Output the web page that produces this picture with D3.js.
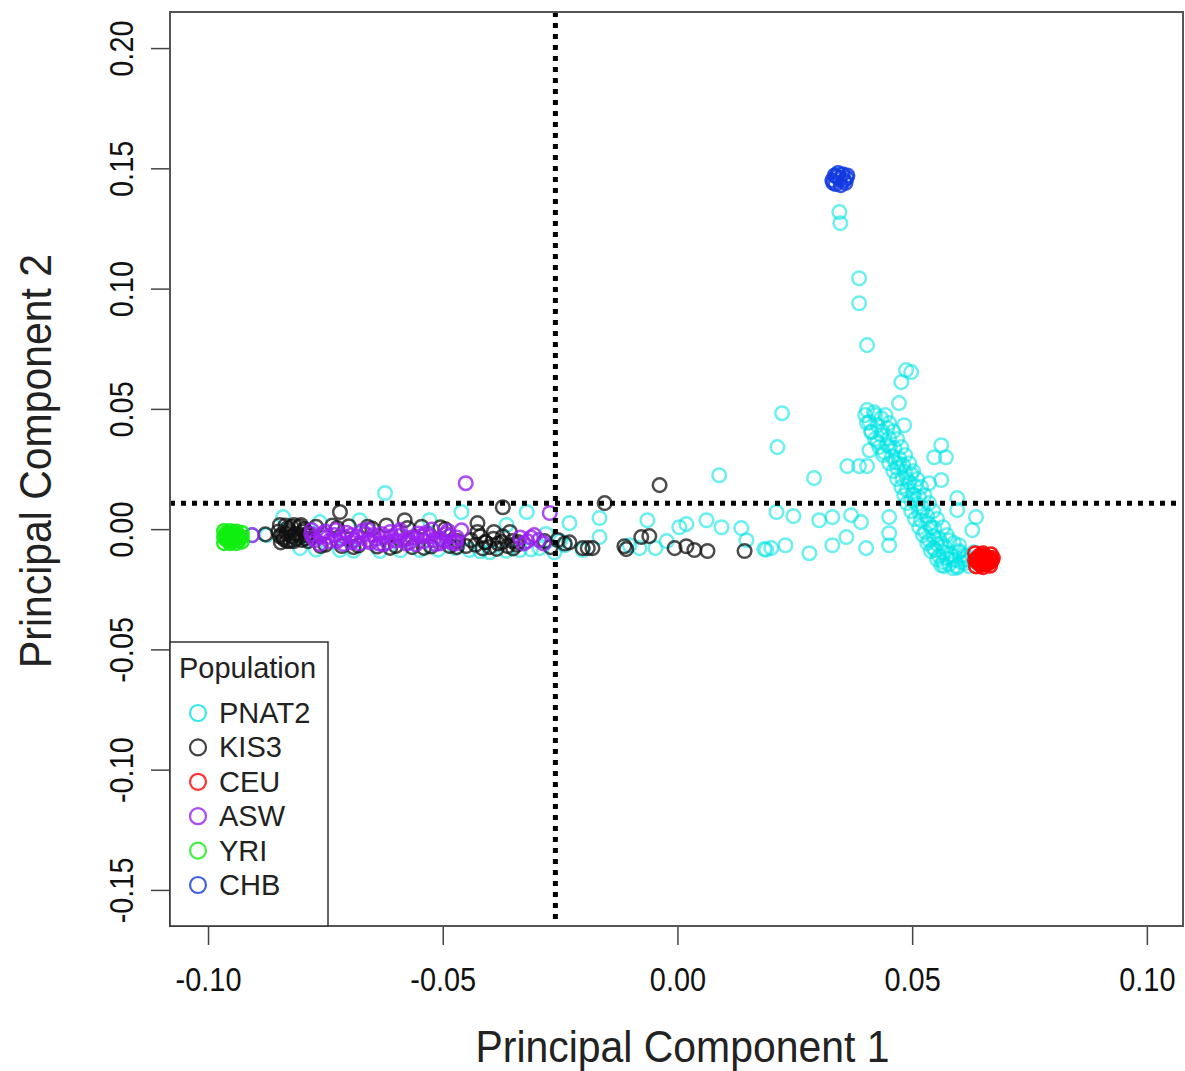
<!DOCTYPE html>
<html>
<head>
<meta charset="utf-8">
<script src="https://cdnjs.cloudflare.com/ajax/libs/d3/7.8.5/d3.min.js"></script>
<style>
  body { margin: 0; background: #fff; }
  svg { display: block; font-family: "Liberation Sans", Arial, sans-serif; }
</style>
</head>
<body>
<div id="viz"></div>
<script>
// PCA scores, [PC1, PC2]
const pnat2 = [
  // main arm from (0.04, 0.05) down to the CEU cluster
  [0.0404,0.0495],[0.0419,0.0486],[0.0434,0.0461],[0.0409,0.0445],[0.0426,0.0432],[0.0447,0.0420],
  [0.0413,0.0403],[0.0434,0.0391],[0.0451,0.0378],[0.0426,0.0362],[0.0447,0.0349],[0.0462,0.0337],
  [0.0440,0.0320],[0.0457,0.0303],[0.0472,0.0295],[0.0464,0.0278],[0.0481,0.0266],[0.0468,0.0254],
  [0.0485,0.0237],[0.0498,0.0229],[0.0479,0.0212],[0.0494,0.0195],[0.0506,0.0179],[0.0489,0.0162],
  [0.0502,0.0145],[0.0515,0.0133],[0.0498,0.0121],[0.0511,0.0104],[0.0523,0.0087],[0.0515,0.0071],
  [0.0532,0.0054],[0.0519,0.0037],[0.0536,0.0021],[0.0547,0.0004],[0.0528,-0.0012],[0.0545,-0.0029],
  [0.0557,-0.0037],[0.0536,-0.0046],[0.0553,-0.0062],[0.0568,-0.0071],[0.0549,-0.0087],[0.0566,-0.0096],
  [0.0583,-0.0104],[0.0557,-0.0112],[0.0574,-0.0121],[0.0591,-0.0129],[0.0604,-0.0137],[0.0579,-0.0145],
  [0.0596,-0.0154],[0.0613,-0.0141],[0.0621,-0.0129],[0.0566,-0.0137],[0.0545,-0.0079],[0.0600,-0.0096],
  [0.0617,-0.0112],
  [0.0400,0.0474],[0.0443,0.0474],[0.0421,0.0474],[0.0404,0.0441],[0.0451,0.0441],[0.0413,0.0407],
  [0.0460,0.0407],[0.0436,0.0407],[0.0421,0.0374],[0.0468,0.0374],[0.0430,0.0341],[0.0477,0.0341],
  [0.0453,0.0341],[0.0438,0.0308],[0.0485,0.0308],[0.0451,0.0274],[0.0494,0.0274],[0.0472,0.0274],
  [0.0460,0.0241],[0.0502,0.0241],[0.0468,0.0208],[0.0511,0.0208],[0.0489,0.0208],[0.0477,0.0175],
  [0.0519,0.0175],[0.0483,0.0141],[0.0526,0.0141],[0.0504,0.0141],[0.0489,0.0108],[0.0536,0.0108],
  [0.0498,0.0075],[0.0545,0.0075],[0.0521,0.0075],[0.0506,0.0042],[0.0553,0.0042],[0.0515,0.0008],
  [0.0566,0.0008],[0.0540,0.0008],[0.0523,-0.0025],[0.0574,-0.0025],[0.0532,-0.0058],[0.0589,-0.0058],
  [0.0562,-0.0058],[0.0540,-0.0091],[0.0600,-0.0091],[0.0553,-0.0125],[0.0611,-0.0125],[0.0583,-0.0125],
  [0.0568,-0.0154],[0.0621,-0.0154],[0.0596,-0.0160],[0.0611,-0.0108],[0.0632,-0.0096],[0.0600,-0.0067],
  [0.0579,-0.0046],[0.0562,-0.0150],[0.0587,-0.0162],
  // scattered around the arm and along PC1
  [0.0213,0.0341],[0.0223,0.0482],[0.0291,0.0212],[0.0362,0.0262],[0.0387,0.0262],[0.0404,0.0262],
  [0.0409,0.0328],[0.0483,0.0432],[0.0472,0.0524],[0.0477,0.0611],[0.0487,0.0661],[0.0498,0.0653],
  [0.0404,0.0765],[0.0387,0.0939],[0.0387,0.1043],[0.0345,0.1318],[0.0347,0.1272],
  [0.0562,0.0349],[0.0572,0.0299],[0.0547,0.0299],[0.0562,0.0204],[0.0596,0.0129],[0.0536,0.0191],
  [0.0636,0.0050],[0.0628,-0.0004],[0.0596,0.0079],[0.0451,0.0050],[0.0451,-0.0017],[0.0451,-0.0067],
  [0.0402,-0.0079],[0.0391,0.0029],[0.0370,0.0058],[0.0360,-0.0033],[0.0330,-0.0067],[0.0330,0.0050],
  [0.0302,0.0037],[0.0281,-0.0100],[0.0247,0.0054],[0.0230,-0.0067],[0.0211,0.0071],[0.0200,-0.0079],
  [0.0185,-0.0083],[0.0189,-0.0085],[0.0147,-0.0046],[0.0136,0.0004],[0.0094,0.0008],[0.0062,0.0037],
  [0.0089,0.0224],[0.0019,0.0021],[0.0004,0.0008],[-0.0064,0.0037],[-0.0047,-0.0079],[-0.0023,-0.0050],
  [-0.0081,-0.0079],[-0.0102,-0.0067],[-0.0166,0.0046],[-0.0166,-0.0033],[-0.0230,0.0025],
  [-0.0202,-0.0087],[-0.0240,-0.0067],[-0.0321,0.0071],[-0.0364,0.0017],[-0.0460,0.0071],
  [-0.0623,0.0150],[-0.0840,0.0050],
  [-0.0804,-0.0079],[-0.0719,-0.0087],[-0.0634,-0.0091],[-0.0549,-0.0087],[-0.0474,-0.0079],
  [-0.0443,-0.0087],[-0.0400,-0.0096],[-0.0336,-0.0087],[-0.0294,-0.0079],[-0.0262,-0.0096],
  [-0.0762,0.0029],[-0.0677,0.0037],[-0.0528,0.0037],[-0.0906,-0.0025],[-0.0875,-0.0025],
  [-0.0770,-0.0085],[-0.0690,-0.0090],[-0.0590,-0.0088],[-0.0510,-0.0085],[-0.0420,-0.0092],
  [-0.0365,-0.0090],[-0.0312,-0.0084],[-0.0250,-0.0050],[-0.0280,-0.0020],
  [0.0340,0.1475],[0.0355,0.1451]
];

const kis3 = [
  [-0.0850,-0.0010],[-0.0840,-0.0035],[-0.0830,0.0005],[-0.0825,-0.0050],[-0.0815,-0.0020],
  [-0.0805,0.0010],[-0.0800,-0.0045],[-0.0790,-0.0025],[-0.0845,-0.0055],[-0.0820,-0.0030],
  [-0.0795,0.0000],[-0.0835,0.0015],
  [-0.0847,0.0017],[-0.0832,-0.0017],[-0.0817,-0.0050],[-0.0802,0.0017],[-0.0787,-0.0017],
  [-0.0847,-0.0030],[-0.0832,-0.0050],[-0.0817,0.0017],[-0.0802,-0.0030],[-0.0787,-0.0050],
  [-0.0843,-0.0022],[-0.0828,-0.0008],[-0.0812,-0.0040],[-0.0797,-0.0010],[-0.0838,-0.0042],
  [-0.0822,0.0010],[-0.0808,-0.0020],[-0.0792,-0.0038],
  [-0.0770,0.0010],[-0.0750,-0.0065],[-0.0735,0.0015],[-0.0715,-0.0070],[-0.0700,0.0012],
  [-0.0680,-0.0068],[-0.0660,0.0010],[-0.0640,-0.0072],[-0.0620,0.0015],[-0.0600,-0.0070],
  [-0.0581,0.0037],[-0.0565,-0.0075],[-0.0545,0.0010],[-0.0525,-0.0072],[-0.0505,0.0008],
  [-0.0485,-0.0070],[-0.0468,-0.0050],[-0.0719,0.0071],
  [-0.0760,-0.0070],[-0.0725,0.0005],[-0.0690,-0.0075],[-0.0650,0.0002],[-0.0612,-0.0078],
  [-0.0575,0.0005],[-0.0540,-0.0078],[-0.0495,0.0000],[-0.0470,-0.0075],
  [-0.0440,-0.0045],[-0.0430,-0.0065],[-0.0420,-0.0030],[-0.0410,-0.0055],[-0.0400,-0.0075],
  [-0.0392,-0.0040],[-0.0382,-0.0060],[-0.0372,-0.0030],[-0.0362,-0.0070],[-0.0352,-0.0050],
  [-0.0342,-0.0065],[-0.0426,0.0025],[-0.0372,0.0091],[-0.0450,-0.0070],
  [-0.0426,-0.0012],[-0.0409,-0.0054],[-0.0391,-0.0012],[-0.0374,-0.0054],[-0.0357,-0.0012],
  [-0.0340,-0.0054],[-0.0415,-0.0080],[-0.0385,-0.0082],[-0.0350,-0.0080],
  [-0.0283,-0.0050],[-0.0270,-0.0075],[-0.0255,-0.0045],[-0.0240,-0.0060],[-0.0230,-0.0055],
  [-0.0202,-0.0079],[-0.0191,-0.0079],[-0.0181,-0.0079],[-0.0113,-0.0071],[-0.0109,-0.0083],
  [-0.0077,-0.0033],[-0.0060,-0.0029],[-0.0006,-0.0079],[0.0019,-0.0071],[0.0036,-0.0087],
  [0.0064,-0.0091],[0.0143,-0.0091],[-0.0155,0.0108],[-0.0038,0.0183],[-0.0878,-0.0022]
];

const ceu = [
  [0.0640,-0.0120],[0.0648,-0.0135],[0.0655,-0.0115],[0.0660,-0.0140],[0.0665,-0.0125],
  [0.0650,-0.0128],[0.0645,-0.0142],[0.0658,-0.0130],[0.0668,-0.0135],[0.0638,-0.0132],
  [0.0652,-0.0110],[0.0662,-0.0118],
  [0.0634,-0.0100],[0.0651,-0.0100],[0.0668,-0.0105],[0.0634,-0.0129],[0.0651,-0.0129],
  [0.0670,-0.0129],[0.0636,-0.0155],[0.0651,-0.0158],[0.0666,-0.0152],
  [0.0642,-0.0112],[0.0657,-0.0122],[0.0646,-0.0150],[0.0660,-0.0145],[0.0672,-0.0120],
  [0.0640,-0.0140],[0.0655,-0.0137]
];

const asw = [
  [-0.0780,-0.0020],[-0.0772,-0.0045],[-0.0760,-0.0030],[-0.0750,-0.0010],[-0.0742,-0.0050],
  [-0.0730,-0.0025],[-0.0718,-0.0040],[-0.0705,-0.0015],[-0.0695,-0.0055],[-0.0683,-0.0030],
  [-0.0672,-0.0008],[-0.0660,-0.0045],[-0.0648,-0.0025],[-0.0636,-0.0060],[-0.0625,-0.0035],
  [-0.0612,-0.0012],[-0.0600,-0.0048],[-0.0590,-0.0028],[-0.0578,-0.0060],[-0.0565,-0.0035],
  [-0.0553,-0.0018],[-0.0540,-0.0050],[-0.0528,-0.0030],[-0.0516,-0.0062],[-0.0505,-0.0040],
  [-0.0493,-0.0020],[-0.0482,-0.0055],[-0.0470,-0.0035],
  [-0.0776,-0.0035],[-0.0755,-0.0020],[-0.0725,-0.0050],[-0.0710,-0.0030],[-0.0688,-0.0045],
  [-0.0665,-0.0020],[-0.0655,-0.0055],[-0.0630,-0.0020],[-0.0618,-0.0055],[-0.0595,-0.0015],
  [-0.0583,-0.0045],[-0.0570,-0.0055],[-0.0547,-0.0030],[-0.0535,-0.0015],[-0.0520,-0.0045],
  [-0.0498,-0.0050],[-0.0487,-0.0030],[-0.0475,-0.0050],
  [-0.0779,-0.0004],[-0.0762,-0.0062],[-0.0745,-0.0033],[-0.0728,-0.0004],[-0.0711,-0.0062],
  [-0.0694,-0.0025],[-0.0677,-0.0060],[-0.0660,-0.0002],[-0.0643,-0.0040],[-0.0626,-0.0064],
  [-0.0609,-0.0030],[-0.0591,-0.0004],[-0.0574,-0.0038],[-0.0557,-0.0063],[-0.0540,-0.0025],
  [-0.0523,-0.0002],[-0.0506,-0.0060],[-0.0489,-0.0008],[-0.0472,-0.0060],
  [-0.0335,-0.0035],[-0.0320,-0.0050],[-0.0305,-0.0025],[-0.0295,-0.0045],[-0.0285,-0.0060],
  [-0.0328,-0.0060],[-0.0312,-0.0035],[-0.0272,0.0067],[-0.0451,0.0191],[-0.0460,-0.0005],
  [-0.0906,-0.0025]
];

const yri = [
  [-0.0960,-0.0030],[-0.0955,-0.0042],[-0.0950,-0.0020],[-0.0945,-0.0038],[-0.0940,-0.0028],
  [-0.0952,-0.0033],[-0.0935,-0.0035],[-0.0958,-0.0022],[-0.0943,-0.0045],[-0.0948,-0.0025],
  [-0.0966,-0.0008],[-0.0953,-0.0008],[-0.0940,-0.0010],[-0.0928,-0.0015],[-0.0966,-0.0033],
  [-0.0928,-0.0033],[-0.0966,-0.0058],[-0.0953,-0.0058],[-0.0940,-0.0058],[-0.0928,-0.0052],
  [-0.0960,-0.0045],[-0.0945,-0.0015],[-0.0935,-0.0048],[-0.0962,-0.0018],[-0.0950,-0.0050],
  [-0.0938,-0.0022],[-0.0956,-0.0036],[-0.0944,-0.0030]
];

const chb = [
  [0.0330,0.1450],[0.0335,0.1470],[0.0342,0.1480],[0.0352,0.1475],[0.0360,0.1460],
  [0.0358,0.1440],[0.0348,0.1430],[0.0337,0.1435],[0.0345,0.1455],[0.0355,0.1450],
  [0.0340,0.1465],[0.0332,0.1440],[0.0362,0.1470]
];

const populations = ["PNAT2", "KIS3", "CEU", "ASW", "YRI", "CHB"];
const popColors = ["#00e4e4", "#111111", "#ff0000", "#9a1ff0", "#10ee10", "#1238e0"];
const popOpacity = [0.58, 0.75, 0.9, 0.8, 0.9, 0.85];
const xTicks = [-0.10, -0.05, 0.00, 0.05, 0.10];
const yTicks = [-0.15, -0.10, -0.05, 0.00, 0.05, 0.10, 0.15, 0.20];
const pc1Cut = -0.026;
const pc2Cut = 0.0108;

const width = 1185, height = 1071;
const margin = {top: 12, right: 2, bottom: 145, left: 170};

const svg = d3.select("#viz").append("svg")
    .attr("width", width)
    .attr("height", height);

const x = d3.scaleLinear()
    .domain([-0.1081, 0.1077])
    .range([margin.left, width - margin.right]);
const y = d3.scaleLinear()
    .domain([-0.165, 0.215])
    .range([height - margin.bottom, margin.top]);

// squeeze text a little, the original font is narrow
function squeeze(sel, f) {
    sel.each(function() {
        const w = this.getComputedTextLength();
        d3.select(this).attr("textLength", w * f).attr("lengthAdjust", "spacingAndGlyphs");
    });
}

// x axis
const xAxis = svg.append("g")
    .attr("transform", "translate(0," + y.range()[0] + ")")
    .call(d3.axisBottom(x).tickValues(xTicks).tickSize(19).tickPadding(22)
        .tickFormat(d => d.toFixed(2)));
xAxis.select(".domain").remove();
xAxis.selectAll("line").attr("stroke", "#444").attr("stroke-width", 1.5);
xAxis.selectAll("text").attr("font-size", 34).attr("fill", "#111")
    .attr("font-family", "Liberation Sans, Arial, sans-serif");
squeeze(xAxis.selectAll("text"), 0.85);

// y axis, labels turned like R does
const yAxis = svg.append("g")
    .attr("transform", "translate(" + x.range()[0] + ",0)")
    .call(d3.axisLeft(y).tickValues(yTicks).tickSize(19)
        .tickFormat(d => d.toFixed(2)));
yAxis.select(".domain").remove();
yAxis.selectAll("line").attr("stroke", "#444").attr("stroke-width", 1.5);
yAxis.selectAll("text")
    .attr("x", 0).attr("dy", 0)
    .attr("text-anchor", "middle")
    .attr("transform", "translate(-37,0) rotate(-90)")
    .attr("font-size", 34).attr("fill", "#111")
    .attr("font-family", "Liberation Sans, Arial, sans-serif");
squeeze(yAxis.selectAll("text"), 0.85);

// axis titles
const xTitle = svg.append("text")
    .attr("x", (x.range()[0] + x.range()[1]) / 2 + 6)
    .attr("y", 1062)
    .attr("text-anchor", "middle")
    .attr("font-size", 44)
    .attr("fill", "#222")
    .text("Principal Component 1");
squeeze(xTitle, 0.93);

const yTitle = svg.append("text")
    .attr("transform", "translate(51," + ((y.range()[0] + y.range()[1]) / 2 - 8) + ") rotate(-90)")
    .attr("text-anchor", "middle")
    .attr("font-size", 44)
    .attr("fill", "#222")
    .text("Principal Component 2");
squeeze(yTitle, 0.93);

// points, in the order R drew them
const plot = svg.append("g");
const groups = [pnat2, kis3, ceu, asw, yri, chb];
groups.forEach((pts, i) => {
    plot.append("g").selectAll("circle")
        .data(pts)
        .enter().append("circle")
        .attr("cx", d => x(d[0]))
        .attr("cy", d => y(d[1]))
        .attr("r", 6.8)
        .attr("fill", "none")
        .attr("stroke", popColors[i])
        .attr("stroke-opacity", popOpacity[i])
        .attr("stroke-width", 2.5);
});

// dotted reference lines
svg.append("line")
    .attr("x1", x(pc1Cut)).attr("x2", x(pc1Cut))
    .attr("y1", y.range()[1]).attr("y2", y.range()[0])
    .attr("stroke", "#000").attr("stroke-width", 5)
    .attr("stroke-dasharray", "5,6");
svg.append("line")
    .attr("x1", x.range()[0]).attr("x2", x.range()[1])
    .attr("y1", y(pc2Cut)).attr("y2", y(pc2Cut))
    .attr("stroke", "#000").attr("stroke-width", 5)
    .attr("stroke-dasharray", "5,6");

// plot box
svg.append("rect")
    .attr("x", x.range()[0]).attr("y", y.range()[1])
    .attr("width", x.range()[1] - x.range()[0])
    .attr("height", y.range()[0] - y.range()[1])
    .attr("fill", "none")
    .attr("stroke", "#555")
    .attr("stroke-width", 2);

// legend
const legend = svg.append("g");
legend.append("rect")
    .attr("x", 170).attr("y", 642)
    .attr("width", 158).attr("height", 284)
    .attr("fill", "#fff")
    .attr("stroke", "#333")
    .attr("stroke-width", 1.5);
legend.append("text")
    .attr("x", 179).attr("y", 678)
    .attr("font-size", 29)
    .attr("fill", "#222")
    .text("Population");
const item = legend.selectAll(".item")
    .data(populations)
    .enter().append("g")
    .attr("class", "item")
    .attr("transform", (d, i) => "translate(0," + (713 + i * 34.4) + ")");
item.append("circle")
    .attr("cx", 198).attr("cy", 0).attr("r", 8)
    .attr("fill", "none")
    .attr("stroke", (d, i) => popColors[i])
    .attr("stroke-opacity", 0.8)
    .attr("stroke-width", 2.2);
item.append("text")
    .attr("x", 219).attr("y", 10)
    .attr("font-size", 29)
    .attr("fill", "#222")
    .text(d => d);
</script>
</body>
</html>
